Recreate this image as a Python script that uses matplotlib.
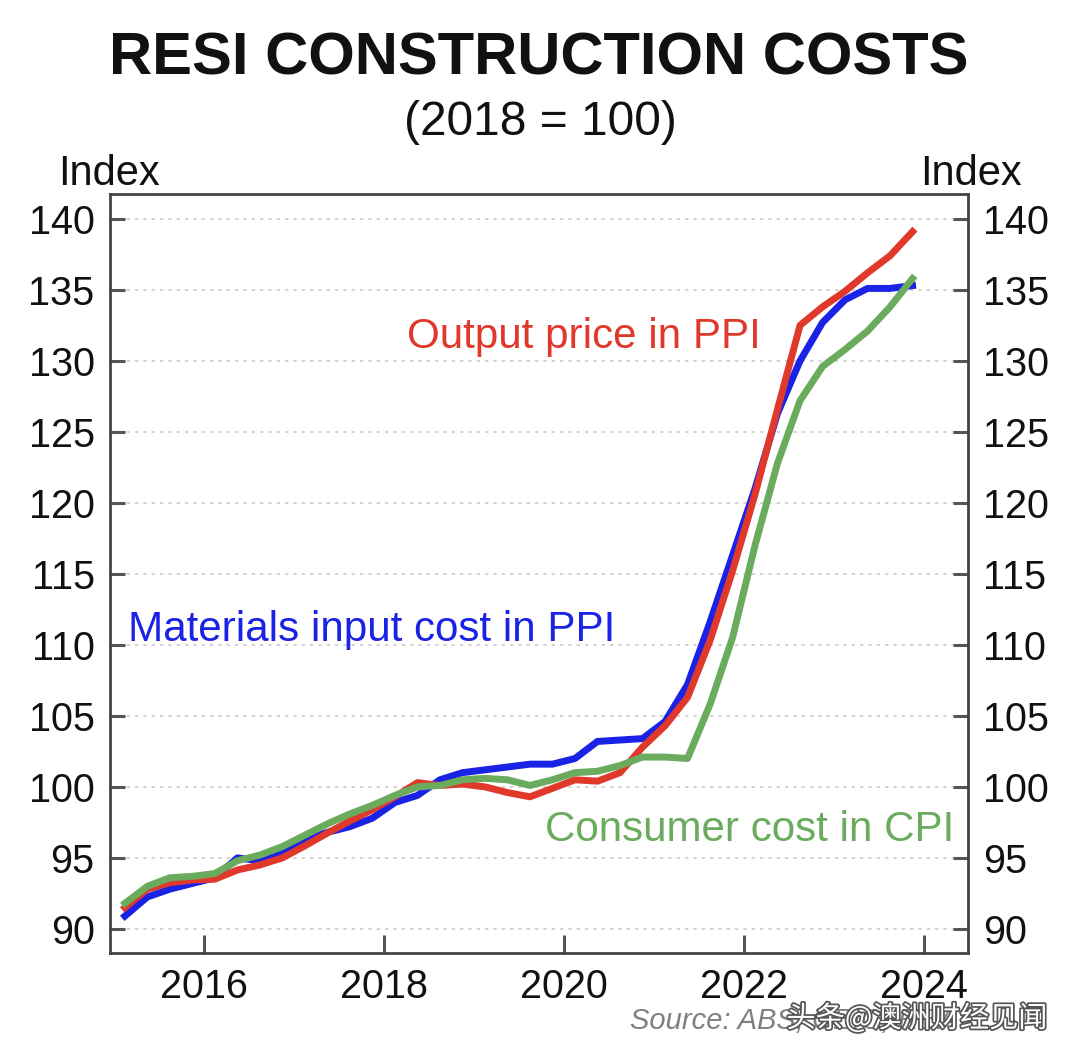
import matplotlib
matplotlib.use("Agg")
import matplotlib.pyplot as plt
import matplotlib.patheffects as pe
import numpy as np

plt.rcParams['font.family'] = ['Liberation Sans', 'DejaVu Sans']

# Quarterly data, Mar-2015 to Dec-2023 (mid-quarter positions)
years = [2015.125 + 0.25 * k for k in range(36)]

materials_ppi = [90.9, 92.25, 92.8, 93.2, 93.6, 95.0, 94.8, 95.5, 96.3, 96.8,
                 97.2, 97.8, 98.9, 99.4, 100.5, 101.0, 101.2, 101.4, 101.6, 101.6,
                 102.0, 103.2, 103.3, 103.4, 104.6, 107.2, 111.6, 116.3, 121.0, 126.3,
                 130.0, 132.7, 134.3, 135.1, 135.1, 135.3]

output_ppi = [91.5, 92.8, 93.25, 93.45, 93.5, 94.15, 94.5, 95.0, 95.85, 96.75,
              97.6, 98.4, 99.3, 100.3, 100.1, 100.2, 100.0, 99.6, 99.3, 99.9,
              100.5, 100.4, 101.0, 102.8, 104.3, 106.3, 110.3, 115.2, 120.6, 126.6,
              132.5, 133.8, 134.9, 136.2, 137.4, 139.1]

consumer_cpi = [91.8, 93.0, 93.6, 93.7, 93.9, 94.8, 95.2, 95.8, 96.6, 97.4,
                98.1, 98.7, 99.4, 100.0, 100.1, 100.5, 100.6, 100.5, 100.1, 100.5,
                101.0, 101.1, 101.5, 102.1, 102.1, 102.0, 105.8, 110.5, 117.0, 122.8,
                127.2, 129.6, 130.8, 132.1, 133.8, 135.8]

y_ticks = [90, 95, 100, 105, 110, 115, 120, 125, 130, 135, 140]
x_ticks = [2016, 2018, 2020, 2022, 2024]

c_blue = '#1a22e6'
c_red = '#e0392b'
c_green = '#6aab5e'

fig = plt.figure(figsize=(10.66, 10.56), dpi=100)
ax = fig.add_axes([0.1032, 0.0975, 0.8048, 0.7188])

ax.plot(years, materials_ppi, color=c_blue, lw=5.0, solid_joinstyle='round', zorder=3)
ax.plot(years, output_ppi, color=c_red, lw=5.0, solid_joinstyle='round', zorder=4)
ax.plot(years, consumer_cpi, color=c_green, lw=5.0, solid_joinstyle='round', zorder=5)

ax.set_xlim(2014.96, 2024.49)
ax.set_ylim(88.3, 141.75)
ax.set_yticks(y_ticks)
ax.set_xticks(x_ticks)
ax.set_xticklabels([str(x) for x in x_ticks])

for y in y_ticks:
    ax.axhline(y, color='#cccccc', lw=1.2, ls=(0, (2, 3)), zorder=1)

ax.tick_params(axis='y', which='both', direction='in', length=11, width=2.2,
               color='#555555', labelsize=28.5, left=True, right=True,
               labelleft=True, labelright=True, pad=11, labelcolor='#111111')
ax.tick_params(axis='x', direction='in', length=13, width=2.2, color='#555555',
               labelsize=28.5, pad=11, labelcolor='#111111')
for s in ax.spines.values():
    s.set_linewidth(2)
    s.set_color('#444444')

# Labels
fig.text(0.505, 0.944, 'RESI CONSTRUCTION COSTS', ha='center', va='center',
         fontsize=43, fontweight='bold', color='#111111')
fig.text(0.507, 0.884, '(2018 = 100)', ha='center', va='center',
         fontsize=34.5, color='#111111')
fig.text(0.102, 0.835, 'Index', ha='center', va='center', fontsize=30, color='#111111')
fig.text(0.911, 0.835, 'Index', ha='center', va='center', fontsize=30, color='#111111')

ax.text(2020.22, 131.7, 'Output price in PPI', color=c_red, fontsize=30.3, ha='center', va='center')
ax.text(2015.16, 111.05, 'Materials input cost in PPI', color=c_blue, fontsize=30.3, ha='left', va='center')
ax.text(2022.07, 96.95, 'Consumer cost in CPI', color=c_green, fontsize=30.3, ha='center', va='center')

fig.text(0.591, 0.033, 'Source: ABS, CEIC, RBA', ha='left', va='center', fontsize=21,
         style='italic', color='#808080')
fig.text(0.860, 0.035, '头条@澳洲财经见闻', ha='center', va='center', fontsize=21,
         color='white', family=['Noto Sans CJK SC', 'DejaVu Sans'],
         path_effects=[pe.withStroke(linewidth=2.5, foreground='#555555')])

fig.savefig('out.png', dpi=100)
